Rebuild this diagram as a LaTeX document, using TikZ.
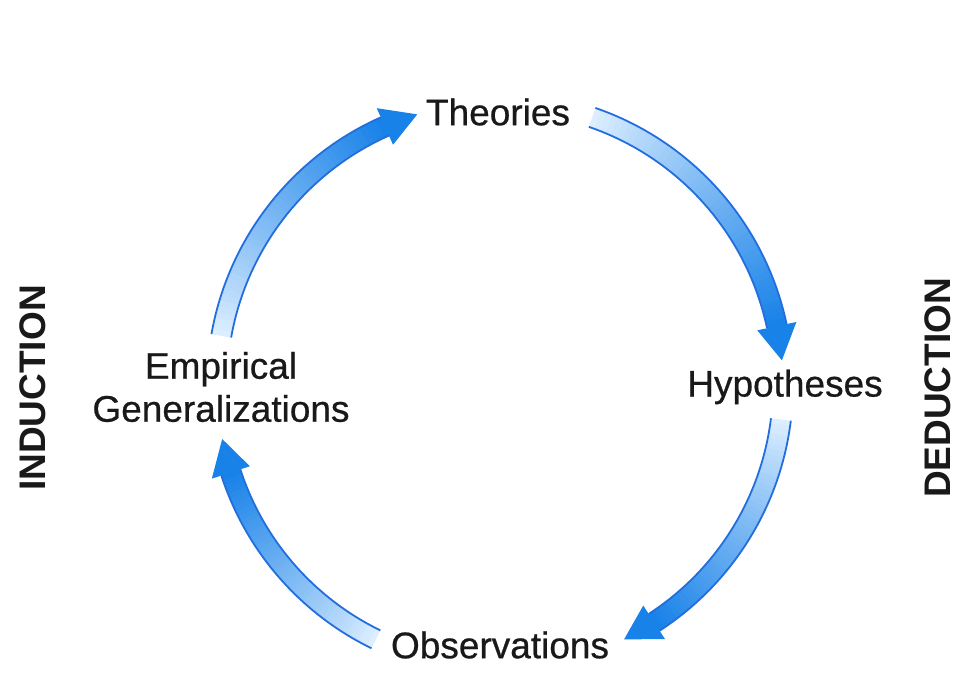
\documentclass[tikz,border=0pt]{standalone}
\usepackage{fontspec}
\setmainfont{Liberation Sans}
\newfontfamily\lblfont{Liberation Sans}[FakeBold=0.6]
\definecolor{arrowlight}{RGB}{220,238,255}
\definecolor{arrowdark}{RGB}{25,130,232}
\definecolor{edgeblue}{RGB}{35,110,222}
\definecolor{txt}{RGB}{25,25,25}
\tikzset{
  lbl/.style={font=\lblfont\fontsize{37}{43}\selectfont, text=txt, align=center, inner sep=0pt},
  side/.style={font=\fontsize{37}{43}\selectfont\bfseries, text=txt, rotate=90, inner sep=0pt},
  rim/.style={edgeblue, line width=1.8pt}
}
\newcommand\cyclearrow[2]{%
  \pgfmathsetmacro\hb{#2+7}%
  \foreach \k in {0,...,47}{%
    \pgfmathsetmacro\aa{#1+(\hb-#1)*\k/48}%
    \pgfmathsetmacro\ab{#1+(\hb-#1)*(\k+1.4)/48}%
    \pgfmathtruncatemacro\pc{100*(\k/47)^0.9}%
    \fill[arrowdark!\pc!arrowlight] (\aa:293) arc[start angle=\aa,end angle=\ab,radius=293]
       -- (\ab:273) arc[start angle=\ab,end angle=\aa,radius=273] -- cycle;
  }%
  \draw[rim] (#1:293) arc[start angle=#1,end angle=\hb,radius=293];
  \draw[rim] (#1:273) arc[start angle=#1,end angle=\hb,radius=273];
  \fill[arrowdark] (\hb:303) -- (#2:283) -- (\hb:263) -- cycle;
}
\begin{document}
\begin{tikzpicture}[x=1pt,y=1pt]
\useasboundingbox (0,0) rectangle (975,687);
\fill[white] (0,0) rectangle (975,687);
\begin{scope}[shift={(500,302)}]
  \cyclearrow{71}{5}
  \cyclearrow{-7}{-64}
  \cyclearrow{244}{191}
  \cyclearrow{170}{107}
\end{scope}
\node[lbl] (theo) at (498,575) {Theories};
\node[lbl] (hyp) at (785,300) {Hypotheses};
\node[lbl] (obs) at (500,42) {Observations};
\node[lbl] (emp) at (221,300) {Empirical\\Generalizations};
\node[side] (ind) at (33,299) {INDUCTION};
\node[side] (ded) at (938,299) {DEDUCTION};
\end{tikzpicture}
\end{document}
